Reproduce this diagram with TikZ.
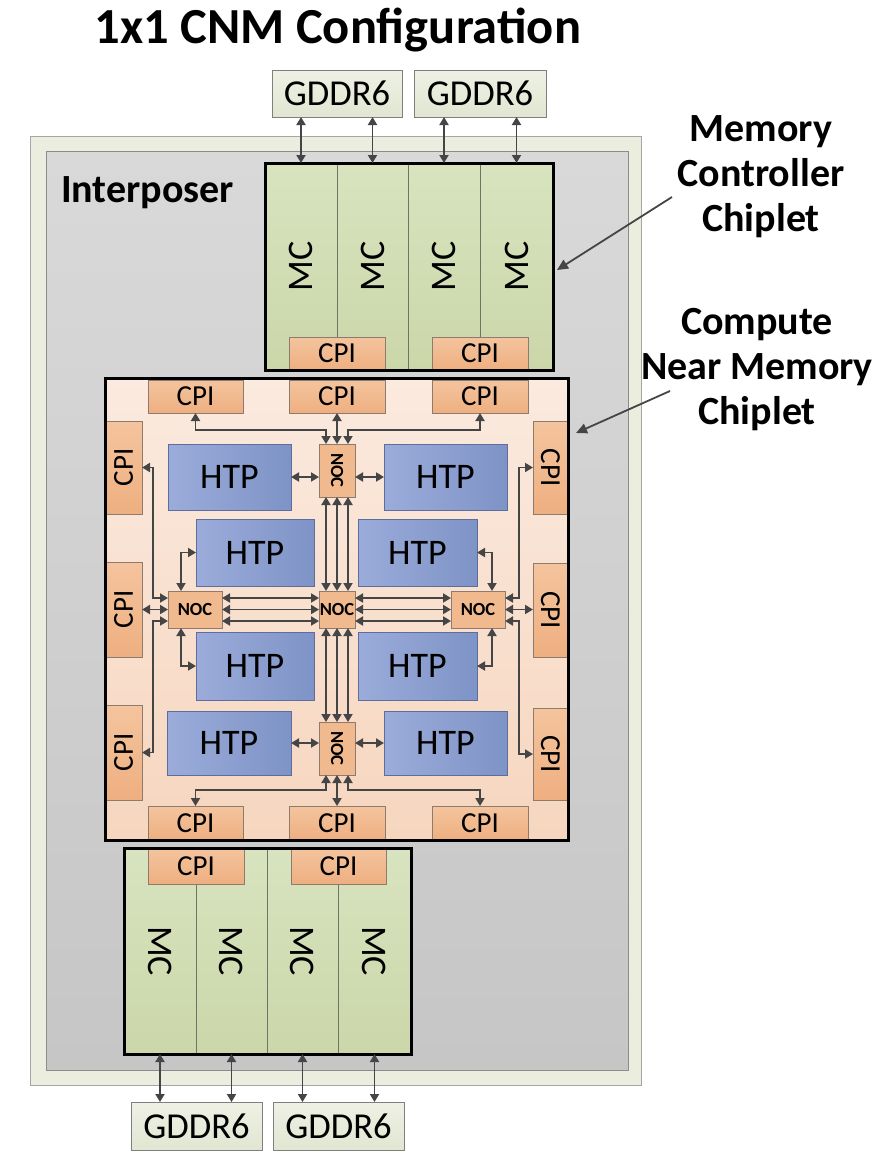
\documentclass[tikz,border=0pt]{standalone}
\usepackage{fontspec}
\usepackage{graphicx}
\setmainfont{Carlito}
\usetikzlibrary{arrows.meta}
\definecolor{cpiTop}{HTML}{F4C49E}
\definecolor{cpiBot}{HTML}{EEAF80}
\definecolor{cpiBorder}{HTML}{8E7B6D}
\definecolor{nocCol}{HTML}{F1BA8E}
\definecolor{htpL}{HTML}{9BACDA}
\definecolor{htpR}{HTML}{7E93C6}
\definecolor{htpBorder}{HTML}{5D6E9E}
\definecolor{mcTop}{HTML}{D8E4BF}
\definecolor{mcBot}{HTML}{CBD6A9}
\definecolor{mcLine}{HTML}{6E7566}
\definecolor{gdTop}{HTML}{EEF1E4}
\definecolor{gdBot}{HTML}{E1E6D2}
\definecolor{gdBorder}{HTML}{7F7F7F}
\definecolor{cnmTop}{HTML}{FBEADF}
\definecolor{cnmBot}{HTML}{F6D6BF}
\definecolor{ipOuter}{HTML}{EBEEDE}
\definecolor{ipOuterBorder}{HTML}{A6A6A6}
\definecolor{ipInTop}{HTML}{D9D9D9}
\definecolor{ipInBot}{HTML}{C6C6C6}
\definecolor{ipInBorder}{HTML}{8C8C8C}
\definecolor{arrGray}{HTML}{454545}
\newcommand{\mybox}[7]{\node[#1, minimum width={(#5-#3)*1pt}, minimum height={(#6-#4)*1pt}] (#2) at ({(#3+#5)/2},{(#4+#6)/2}) {#7};}
\begin{document}
\begin{tikzpicture}[x=1pt,y=-1pt,
  base/.style={inner sep=0pt, outer sep=0pt},
  cpi/.style={base, draw=cpiBorder, line width=0.8pt, top color=cpiTop, bottom color=cpiBot, font=\fontsize{29}{29}\selectfont},
  htp/.style={base, draw=htpBorder, line width=0.8pt, left color=htpL, right color=htpR, font=\fontsize{36}{36}\selectfont},
  noc/.style={base, draw=cpiBorder, line width=0.8pt, fill=nocCol, font=\bfseries\fontsize{18.5}{18.5}\selectfont},
  mccol/.style={base, draw=mcLine, line width=0.8pt, top color=mcTop, bottom color=mcBot, font=\fontsize{36}{36}\selectfont},
  gddr/.style={base, draw=gdBorder, line width=0.8pt, top color=gdTop, bottom color=gdBot, font=\fontsize{36.5}{36.5}\selectfont},
  frame/.style={base, draw=black, line width=3pt},
  arr/.style={draw=arrGray, line width=1.8pt, {Triangle[length=8pt,width=9pt]}-{Triangle[length=8pt,width=9pt]}},
  larr/.style={draw=arrGray, line width=1.8pt, -{Triangle[length=11pt,width=10pt]}},
  lbl/.style={font=\bfseries\fontsize{40}{45}\selectfont, align=center}
]
\useasboundingbox (0,0) rectangle (879,1151);
\fill[white] (0,0) rectangle (879,1151);

% title
\node[font=\bfseries\fontsize{50.5}{50.5}\selectfont] (title) at (338,30) {1x1 CNM Configuration};

% interposer
\mybox{base, draw=ipOuterBorder, line width=1pt, fill=ipOuter}{ipout}{30}{136}{641}{1085}{}
\mybox{base, draw=ipInBorder, line width=1pt, top color=ipInTop, bottom color=ipInBot}{ipin}{46}{151}{628}{1070}{}
\node[base, anchor=west, font=\bfseries\fontsize{40}{40}\selectfont] (iplbl) at (61,193) {Interposer};

% top GDDR6
\mybox{gddr}{g1}{272}{70}{402}{117}{GDDR6}
\mybox{gddr}{g2}{414}{70}{546}{117}{GDDR6}

% top memory controller chiplet
\mybox{mccol}{mt1}{265}{163}{337}{370}{\rotatebox{90}{MC}}
\mybox{mccol}{mt2}{337}{163}{408}{370}{\rotatebox{90}{MC}}
\mybox{mccol}{mt3}{408}{163}{480}{370}{\rotatebox{90}{MC}}
\mybox{mccol}{mt4}{480}{163}{553}{370}{\rotatebox{90}{MC}}
\mybox{cpi}{mcp1}{289}{337}{385}{370}{CPI}
\mybox{cpi}{mcp2}{432}{337}{528}{370}{CPI}
\mybox{frame}{mctop}{265}{163}{553}{370}{}

\foreach \c/\g in {mt1/g1, mt2/g1, mt3/g2, mt4/g2}
  \draw[arr] (\c.north) -- (\c.north |- \g.south);

% CNM chiplet
\mybox{base, top color=cnmTop, bottom color=cnmBot}{cnmfill}{105}{378}{568}{840}{}
\mybox{cpi}{tc1}{148}{380}{243}{413}{CPI}
\mybox{cpi}{tc2}{289}{380}{385}{413}{CPI}
\mybox{cpi}{tc3}{432}{380}{528}{413}{CPI}
\mybox{cpi}{bc1}{148}{806}{243}{840}{CPI}
\mybox{cpi}{bc2}{289}{806}{385}{840}{CPI}
\mybox{cpi}{bc3}{432}{806}{528}{840}{CPI}
\mybox{cpi}{lc1}{105}{421}{142}{514}{\rotatebox{90}{CPI}}
\mybox{cpi}{lc2}{105}{562}{142}{657}{\rotatebox{90}{CPI}}
\mybox{cpi}{lc3}{105}{705}{142}{800}{\rotatebox{90}{CPI}}
\mybox{cpi}{rc1}{533}{421}{568}{514}{\rotatebox{-90}{CPI}}
\mybox{cpi}{rc2}{533}{563}{568}{657}{\rotatebox{-90}{CPI}}
\mybox{cpi}{rc3}{533}{708}{568}{800}{\rotatebox{-90}{CPI}}

\mybox{htp}{h1l}{168}{444}{291}{510}{HTP}
\mybox{htp}{h1r}{384}{444}{507}{510}{HTP}
\mybox{htp}{h2l}{196}{519}{314}{586}{HTP}
\mybox{htp}{h2r}{358}{519}{477}{586}{HTP}
\mybox{htp}{h3l}{196}{632}{314}{700}{HTP}
\mybox{htp}{h3r}{358}{632}{477}{700}{HTP}
\mybox{htp}{h4l}{167}{711}{291}{775}{HTP}
\mybox{htp}{h4r}{384}{711}{507}{775}{HTP}

\mybox{noc}{ntop}{319}{444}{355}{497}{\rotatebox{-90}{NOC}}
\mybox{noc}{ncen}{319}{591}{355}{628}{NOC}
\mybox{noc}{nleft}{168}{591}{222}{628}{NOC}
\mybox{noc}{nright}{451}{591}{505}{628}{NOC}
\mybox{noc}{nbot}{319}{722}{355}{775}{\rotatebox{-90}{NOC}}

% connectors: top NOC
\draw[arr] (h1l.east) -- (h1l.east -| ntop.west);
\draw[arr] (h1r.west) -- (h1r.west -| ntop.east);
\draw[arr] (ntop.north) -- (ntop.north |- tc2.south);
\draw[arr] (tc1.south) -- ++(0,17) -| ([xshift=-11pt]ntop.north);
\draw[arr] (tc3.south) -- ++(0,17) -| ([xshift=11pt]ntop.north);
\foreach \dx in {-11,0,11} {
  \draw[arr] ([xshift=\dx pt]ntop.south) -- ([xshift=\dx pt]ncen.north);
  \draw[arr] ([xshift=\dx pt]ncen.south) -- ([xshift=\dx pt]nbot.north);
}
\foreach \dy in {-11.5,0,11.5} {
  \draw[arr] ([yshift=\dy pt]ncen.west) -- ([yshift=\dy pt]nleft.east);
  \draw[arr] ([yshift=\dy pt]ncen.east) -- ([yshift=\dy pt]nright.west);
}
% left NOC
\draw[arr] (nleft.west) -- (nleft.west -| lc2.east);
\draw[arr] (lc1.east) -- ++(11,0) |- ([yshift=11.5pt]nleft.west);
\draw[arr] (lc3.east) -- ++(11,0) |- ([yshift=-11.5pt]nleft.west);
\draw[arr] ([xshift=-14pt]nleft.north) |- (h2l.west);
\draw[arr] ([xshift=-14pt]nleft.south) |- (h3l.west);
% right NOC
\draw[arr] (nright.east) -- (nright.east -| rc2.west);
\draw[arr] (rc1.west) -- ++(-14,0) |- ([yshift=11.5pt]nright.east);
\draw[arr] (rc3.west) -- ++(-14,0) |- ([yshift=-11.5pt]nright.east);
\draw[arr] ([xshift=14pt]nright.north) |- (h2r.east);
\draw[arr] ([xshift=14pt]nright.south) |- (h3r.east);
% bottom NOC
\draw[arr] (h4l.east) -- (h4l.east -| nbot.west);
\draw[arr] (h4r.west) -- (h4r.west -| nbot.east);
\draw[arr] (nbot.south) -- (nbot.south |- bc2.north);
\draw[arr] ([xshift=-11pt]nbot.south) -- ++(0,15) -| (bc1.north);
\draw[arr] ([xshift=11pt]nbot.south) -- ++(0,15) -| (bc3.north);

\mybox{frame}{cnm}{105}{378}{568}{840}{}

% bottom memory controller chiplet
\mybox{mccol}{mb1}{124}{848}{196}{1054}{\rotatebox{-90}{MC}}
\mybox{mccol}{mb2}{196}{848}{267}{1054}{\rotatebox{-90}{MC}}
\mybox{mccol}{mb3}{267}{848}{338}{1054}{\rotatebox{-90}{MC}}
\mybox{mccol}{mb4}{338}{848}{411}{1054}{\rotatebox{-90}{MC}}
\mybox{cpi}{mbp1}{148}{848}{244}{884}{CPI}
\mybox{cpi}{mbp2}{291}{848}{386}{884}{CPI}
\mybox{frame}{mcbot}{124}{848}{411}{1054}{}

\mybox{gddr}{gb1}{131}{1102}{262}{1150}{GDDR6}
\mybox{gddr}{gb2}{273}{1102}{404}{1150}{GDDR6}
\foreach \c/\g in {mb1/gb1, mb2/gb1, mb3/gb2, mb4/gb2}
  \draw[arr] (\c.south) -- (\c.south |- \g.north);

% side labels
\node[lbl] (lblmc) at (761,177) {Memory\\Controller\\Chiplet};
\node[lbl] (lblcnm) at (757,370) {Compute\\Near Memory\\Chiplet};
\coordinate (mctail) at (672,197);
\coordinate (mctip) at (557,270);
\coordinate (cnmtail) at (670,391);
\coordinate (cnmtip) at (576,433);
\draw[larr] (mctail) -- (mctip);
\draw[larr] (cnmtail) -- (cnmtip);
\end{tikzpicture}
\end{document}
